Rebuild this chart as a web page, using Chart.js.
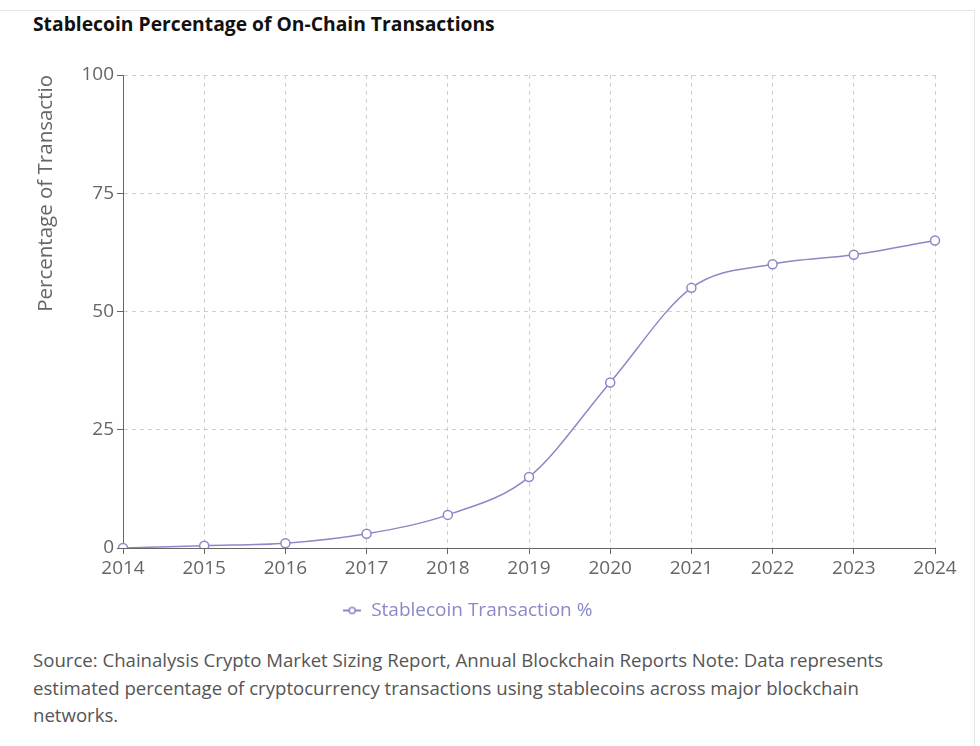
<!DOCTYPE html>
<html>
<head>
<meta charset="utf-8">
<script src="https://cdn.jsdelivr.net/npm/chart.js@4.4.1/dist/chart.umd.min.js"></script>
<style>
  html, body { margin: 0; padding: 0; background: #fff; }
  body { width: 980px; height: 746px; position: relative; overflow: hidden; font-family: "Open Sans", sans-serif; }
  .frame { position: absolute; left: -2px; top: 10px; width: 976px; height: 760px; border-top: 1px solid #e6e6e6; border-right: 1px solid #e6e6e6; }
  h1 { position: absolute; left: 33px; top: 10px; margin: 0; font-size: 19.3px; font-weight: 700; color: #111; }
  .wrap { position: absolute; left: 0; top: 60px; width: 970px; height: 570px; }
  .note { position: absolute; left: 33px; top: 646px; width: 870px; margin: 0; font-size: 18.6px; line-height: 27.5px; color: #555; }
</style>
</head>
<body>
<div class="frame"></div>
<h1>Stablecoin Percentage of On-Chain Transactions</h1>
<div class="wrap"><canvas id="stableChart"></canvas></div>
<p class="note">Source: Chainalysis Crypto Market Sizing Report, Annual Blockchain Reports Note: Data represents estimated percentage of cryptocurrency transactions using stablecoins across major blockchain networks.</p>
<script>
const years = ['2014', '2015', '2016', '2017', '2018', '2019', '2020', '2021', '2022', '2023', '2024'];
const stablePct = [0, 0.5, 1, 3, 7, 15, 35, 55, 60, 62, 65];
const yTicks = [0, 25, 50, 75, 100];

const lineColor = '#8a88c8';

// little "-o-" marker for the legend
function legendIcon(){
  const c = document.createElement('canvas');
  c.width = 18; c.height = 10;
  const g = c.getContext('2d');
  g.strokeStyle = lineColor;
  g.lineWidth = 2;
  g.beginPath(); g.moveTo(0, 5); g.lineTo(18, 5); g.stroke();
  g.fillStyle = '#fff';
  g.lineWidth = 1.5;
  g.beginPath(); g.arc(9, 5, 3, 0, Math.PI * 2); g.fill(); g.stroke();
  return c;
}

Chart.defaults.font.family = '"Open Sans", sans-serif';

const ctx = document.getElementById('stableChart');
new Chart(ctx, {
  type: 'line',
  data: {
    labels: years,
    datasets: [{
      label: 'Stablecoin Transaction %',
      data: stablePct,
      borderColor: lineColor,
      backgroundColor: '#fff',
      borderWidth: 1.5,
      cubicInterpolationMode: 'monotone',
      pointRadius: 4.5,
      pointBorderWidth: 1.5,
      pointBackgroundColor: '#fff',
      pointBorderColor: lineColor,
      pointStyle: 'circle'
    }]
  },
  options: {
    responsive: true,
    maintainAspectRatio: false,
    animation: false,
    layout: {
      padding: { top: 15, right: 35, left: 0, bottom: 0 }
    },
    scales: {
      x: {
        offset: false,
        grid: {
          color: '#cfcfcf',
          tickLength: 6,
          tickColor: '#666',
          tickBorderDash: []
        },
        border: { color: '#666', width: 1, dash: [4, 4] },
        ticks: {
          color: '#666',
          font: { size: 19 },
          padding: 3,
          maxRotation: 0,
          autoSkip: false
        },
        afterFit: (scale) => { scale.height = 43; }
      },
      y: {
        min: 0,
        max: 100,
        afterBuildTicks: (scale) => { scale.ticks = yTicks.map(v => ({ value: v })); },
        grid: {
          color: '#cfcfcf',
          tickLength: 6,
          tickColor: '#666',
          tickBorderDash: []
        },
        border: { color: '#666', width: 1, dash: [4, 4] },
        ticks: {
          color: '#666',
          font: { size: 19 },
          padding: 3
        },
        title: {
          display: true,
          text: 'Percentage of Transactio',
          color: '#666',
          align: 'end',
          font: { size: 20.5 },
          padding: { top: 34, bottom: 0 }
        },
        afterFit: (scale) => { scale.width = 123; }
      }
    },
    plugins: {
      legend: {
        display: true,
        position: 'bottom',
        labels: {
          usePointStyle: true,
          pointStyle: legendIcon(),
          color: lineColor,
          font: { size: 19 },
          padding: 10
        }
      },
      tooltip: { enabled: false }
    }
  }
});
</script>
</body>
</html>
